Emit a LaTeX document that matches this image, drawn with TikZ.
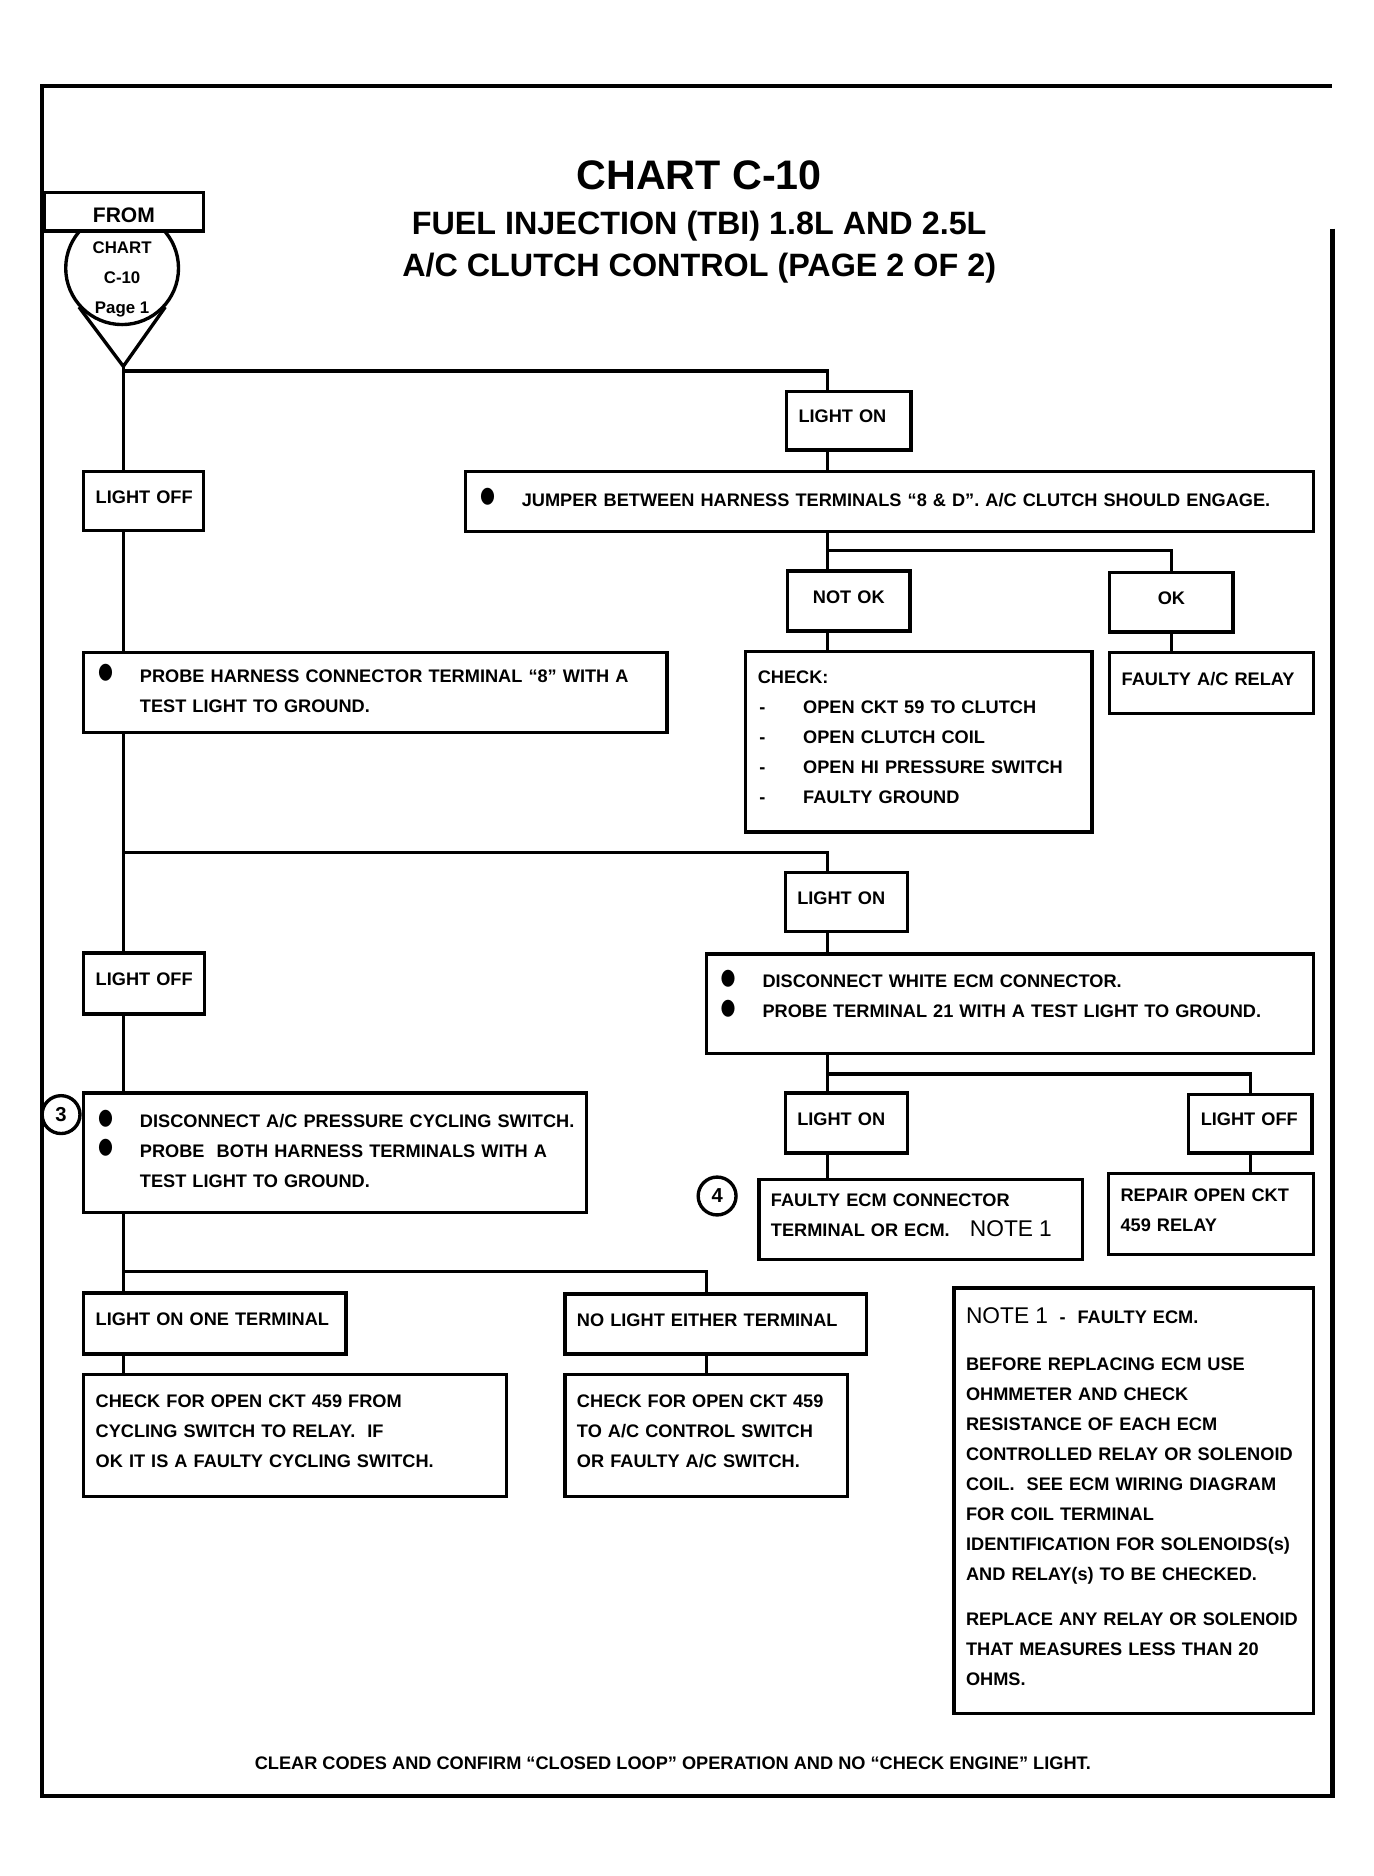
\documentclass[tikz,border=0pt]{standalone}
\usepackage{fontspec}
\setmainfont{Liberation Sans}
\newfontfamily\djv{DejaVu Sans}
\usetikzlibrary{calc}

\newlength\bxw \newlength\bxh \newlength\bxt
\newcommand\bodyf{\fontsize{10.8}{17.8}\selectfont\bfseries}
\newcommand\notef{\fontsize{13.5}{13.5}\selectfont\mdseries}
\newcommand\bul{\makebox[26.3pt][l]{\hspace{1.5pt}\raisebox{2.2pt}{\djv\fontsize{12}{12}\selectfont\scalebox{0.85}[1.1]{●}}}}
\newcommand\ind{\hspace*{26.3pt}}
\newcommand\dsh{\makebox[27pt][l]{\hspace{1pt}-}}

% [options]{name}{x1}{y1}{x2}{y2}{text}
\newcommand\mybox[7][]{%
 \pgfmathsetlength\bxw{(#5-#3)*0.71132pt}%
 \pgfmathsetlength\bxh{(#6-#4)*0.71132pt}%
 \pgfmathsetlength\bxt{\bxw-14.2pt}%
 \node[pbox, minimum width=\bxw, minimum height=\bxh, text width=\bxt, #1] (#2) at ({(#3+#5)/2},{(#4+#6)/2}) {#7\rule[-5pt]{0pt}{5pt}};}

\begin{document}
\begin{tikzpicture}[x=0.025cm,y=-0.025cm,line width=2pt,
  pbox/.style={draw, rectangle, fill=white, inner xsep=7.1pt, inner ysep=0pt,
    align=left, font=\bodyf, line width=2pt},
  conn/.style={line width=2pt},
  numc/.style={circle, draw, fill=white, line width=2pt, minimum size=22.5pt,
    inner sep=0pt, font=\fontsize{12}{12}\selectfont\bfseries},
  ttl/.style={anchor=base, inner sep=0pt}]

\fill[white] (0,0) rectangle (1147,1567);
\useasboundingbox (0,0) rectangle (1147,1567);

% frame
\draw[line width=2.4pt] (1113,191) -- (1113,1500) -- (35,1500) -- (35,72) -- (1113,72);

% titles
\node[ttl, font=\fontsize{24.5}{24.5}\selectfont\bfseries] (t1) at (584,158) {CHART C-10};
\node[ttl, font=\fontsize{19.2}{19.2}\selectfont\bfseries] (t2) at (584,196) {FUEL INJECTION (TBI) 1.8L AND 2.5L};
\node[ttl, font=\fontsize{19.2}{19.2}\selectfont\bfseries] (t3) at (584,231) {A/C CLUTCH CONTROL (PAGE 2 OF 2)};

% from-chart symbol
\coordinate (apex) at (103,306);
\node[circle, draw, fill=white, line width=2pt, minimum size=67pt, inner sep=0pt] (fromc) at (102,224) {};
\draw[conn] (fromc.-138) -- (apex) -- (fromc.-42);
\mybox[align=center]{fromb}{37}{161}{170}{193}{\raisebox{-5pt}[8pt][2pt]{\fontsize{12.5}{12.5}\selectfont FROM}}
\node[align=center, inner sep=0pt, font=\fontsize{10}{17.8}\selectfont\bfseries] (fromt) at (102,233) {CHART\\C-10\\Page 1};

% junction coordinates
\coordinate (j1) at (691,310);
\coordinate (j2) at (691,460);
\coordinate (j3) at (691,712);
\coordinate (j4) at (691,897);
\coordinate (j5) at (590,1062);

% boxes
\mybox{lon1}{657}{327}{761}{376}{\mbox{LIGHT ON}}
\mybox{jump}{389}{394}{1097}{444}{\bul JUMPER BETWEEN HARNESS TERMINALS “8 \& D”. A/C CLUTCH SHOULD ENGAGE.}
\mybox{loff1}{70}{394}{170}{443}{\mbox{LIGHT OFF}}
\mybox[align=center]{notok}{658}{477}{760}{527}{\mbox{NOT OK}}
\mybox[align=center]{ok}{927}{478}{1030}{528}{OK}
\mybox{check}{623}{544}{912}{695}{CHECK:\\\dsh OPEN CKT 59 TO CLUTCH\\\dsh OPEN CLUTCH COIL\\\dsh OPEN HI PRESSURE SWITCH\\\dsh FAULTY GROUND}
\mybox{relay}{927}{545}{1097}{596}{\mbox{FAULTY A/C RELAY}}
\mybox{probe}{70}{545}{557}{612}{\bul PROBE HARNESS CONNECTOR TERMINAL “8” WITH A\\\ind TEST LIGHT TO GROUND.}
\mybox{lon2}{656}{729}{758}{778}{\mbox{LIGHT ON}}
\mybox{loff2}{70}{796}{171}{847}{\mbox{LIGHT OFF}}
\mybox{ecm}{590}{797}{1097}{880}{\bul DISCONNECT WHITE ECM CONNECTOR.\\\bul PROBE TERMINAL 21 WITH A TEST LIGHT TO GROUND.\rule[-12pt]{0pt}{12pt}}
\mybox{lon3}{656}{913}{758}{963}{\mbox{LIGHT ON}}
\mybox{loff3}{993}{914}{1096}{963}{\mbox{LIGHT OFF}}
\mybox{fecm}{634}{985}{904}{1052}{FAULTY ECM CONNECTOR\\\mbox{TERMINAL OR ECM.\hspace{12pt}{\notef NOTE 1}}}
\mybox{repair}{926}{980}{1097}{1048}{REPAIR OPEN CKT\\459 RELAY}
\mybox{disc}{70}{913}{490}{1013}{\bul DISCONNECT A/C PRESSURE CYCLING SWITCH.\\\bul PROBE\ \ BOTH HARNESS TERMINALS WITH A\\\ind TEST LIGHT TO GROUND.}
\mybox{lone}{70}{1080}{289}{1131}{\mbox{LIGHT ON ONE TERMINAL}}
\mybox{nol}{472}{1081}{724}{1131}{\mbox{NO LIGHT EITHER TERMINAL}}
\mybox{chk1}{70}{1148}{423}{1250}{CHECK FOR OPEN CKT 459 FROM\\CYCLING SWITCH TO RELAY.\ \ IF\\OK IT IS A FAULTY CYCLING SWITCH.}
\mybox{chk2}{472}{1148}{708}{1250}{CHECK FOR OPEN CKT 459\\TO A/C CONTROL SWITCH\\OR FAULTY A/C SWITCH.}
\mybox{note}{797}{1076}{1097}{1431}{{\notef NOTE 1}\hspace{7pt}-\hspace{7pt}FAULTY ECM.\\[10.5pt]BEFORE REPLACING ECM USE\\OHMMETER AND CHECK\\RESISTANCE OF EACH ECM\\CONTROLLED RELAY OR SOLENOID\\COIL.\ \ SEE ECM WIRING DIAGRAM\\FOR COIL TERMINAL\\\mbox{IDENTIFICATION FOR SOLENOIDS(s)}\\AND RELAY(s) TO BE CHECKED.\\[9pt]REPLACE ANY RELAY OR SOLENOID\\THAT MEASURES LESS THAN 20\\OHMS.}

% circled numbers
\node[numc] (c3) at (51,931) {3};
\node[numc] (c4) at (599,999) {4};

% bottom text
\node[ttl, font=\bodyf] (foot) at (562,1478) {CLEAR CODES AND CONFIRM “CLOSED LOOP” OPERATION AND NO “CHECK ENGINE” LIGHT.};

% connectors
\draw[conn] (apex) |- (j1) -- (j1 |- lon1.north);
\draw[conn] (apex) -- (apex |- loff1.north);
\draw[conn] (apex |- loff1.south) -- (apex |- probe.north);
\draw[conn] (apex |- probe.south) -- (apex |- loff2.north);
\draw[conn] (apex |- j3) -- (j3) -- (j3 |- lon2.north);
\draw[conn] (apex |- loff2.south) -- (apex |- disc.north);
\draw[conn] (apex |- disc.south) -- (apex |- lone.north);
\draw[conn] (apex |- j5) -- (j5) -- (j5 |- nol.north);
\draw[conn] (apex |- lone.south) -- (apex |- chk1.north);
\draw[conn] (j5 |- nol.south) -- (j5 |- chk2.north);
\draw[conn] (j1 |- lon1.south) -- (j1 |- jump.north);
\draw[conn] (j1 |- jump.south) -- (j1 |- notok.north);
\draw[conn] (j2) -| (ok.north);
\draw[conn] (j1 |- notok.south) -- (j1 |- check.north);
\draw[conn] (ok.south) -- (ok.south |- relay.north);
\draw[conn] (j3 |- lon2.south) -- (j3 |- ecm.north);
\draw[conn] (j3 |- ecm.south) -- (j3 |- lon3.north);
\draw[conn] (j4) -| (loff3.north);
\draw[conn] (j3 |- lon3.south) -- (j3 |- fecm.north);
\draw[conn] (loff3.south) -- (loff3.south |- repair.north);
\end{tikzpicture}
\end{document}
